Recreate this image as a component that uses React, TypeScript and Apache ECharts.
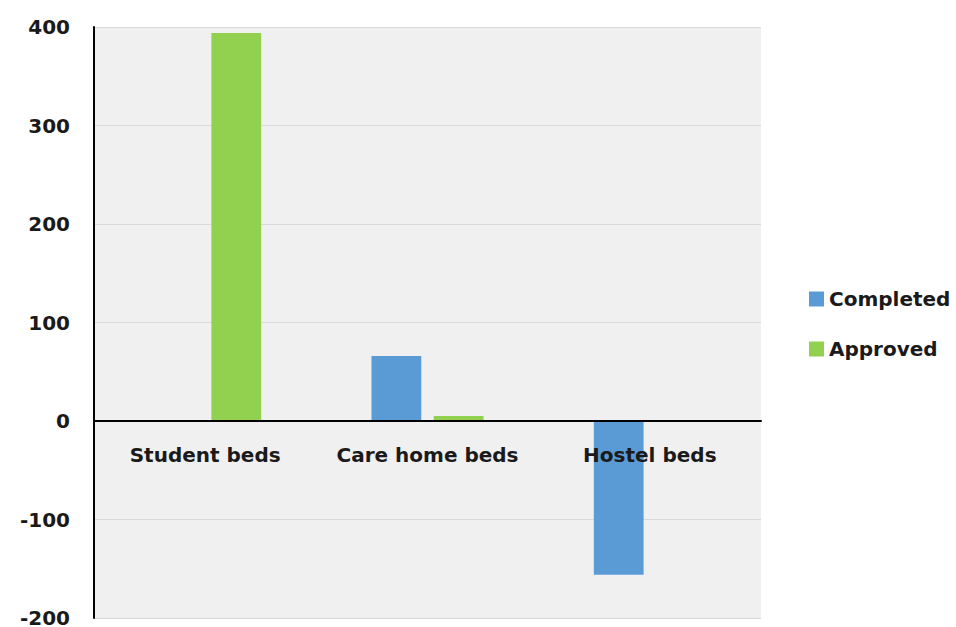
import React, { useEffect, useRef } from "react";
import * as echarts from "echarts";

const categories = ["Student beds", "Care home beds", "Hostel beds"];
const completed = [0, 66, -156];
const approved = [394, 5, 0];
const seriesNames = ["Completed", "Approved"];
const yMin = -200;
const yMax = 400;
const yStep = 100;

export default function App() {
  const ref = useRef<HTMLDivElement>(null);
  useEffect(() => {
    if (!ref.current) return;
    const chart = echarts.init(ref.current, undefined, { renderer: "svg" });
    const font = "DejaVu Sans";
    const textColor = "#1a1a1a";
    chart.setOption({
      animation: false,
      backgroundColor: "#ffffff",
      textStyle: { fontFamily: font },
      grid: {
        left: 94,
        right: 195,
        top: 27,
        bottom: 9,
        show: true,
        backgroundColor: "#f0f0f0",
        borderWidth: 0,
        containLabel: false,
        outerBoundsMode: "none",
      },
      legend: {
        orient: "vertical",
        left: 804,
        top: 284,
        itemWidth: 15,
        itemHeight: 15,
        itemGap: 30,
        icon: "rect",
        textStyle: { fontFamily: font, fontWeight: "bold", fontSize: 20, color: textColor },
        data: seriesNames,
      },
      xAxis: {
        type: "category",
        data: categories,
        axisLine: { onZero: true, lineStyle: { color: "#000000", width: 2 } },
        axisTick: { show: false },
        axisLabel: { show: false },
        z: 10,
      },
      yAxis: {
        type: "value",
        min: yMin,
        max: yMax,
        interval: yStep,
        axisLine: { show: true, lineStyle: { color: "#000000", width: 2 } },
        axisTick: { show: false },
        axisLabel: { fontFamily: font, fontWeight: "bold", fontSize: 20, color: textColor, margin: 24 },
        splitLine: { lineStyle: { color: "#d9d9d9", width: 1 } },
      },
      series: [
        {
          name: seriesNames[0],
          type: "bar",
          data: completed,
          barWidth: "22.4%",
          barGap: "25%",
          itemStyle: { color: "#5b9bd5" },
        },
        {
          name: seriesNames[1],
          type: "bar",
          data: approved,
          barWidth: "22.4%",
          barGap: "25%",
          itemStyle: { color: "#92d050" },
        },
        {
          name: "categoryLabels",
          type: "scatter",
          data: categories.map((c) => [c, 0]),
          symbolSize: 0,
          silent: true,
          z: 20,
          itemStyle: { opacity: 1, color: "transparent" },
          label: {
            show: true,
            position: "bottom",
            distance: 24,
            formatter: (p: any) => p.name,
            fontFamily: font,
            fontWeight: "bold",
            fontSize: 20,
            color: textColor,
            opacity: 1,
          },
        },
      ],
    });
    return () => chart.dispose();
  }, []);
  return <div ref={ref} style={{ width: 956, height: 627, position: "absolute", left: 0, top: 0 }} />;
}
